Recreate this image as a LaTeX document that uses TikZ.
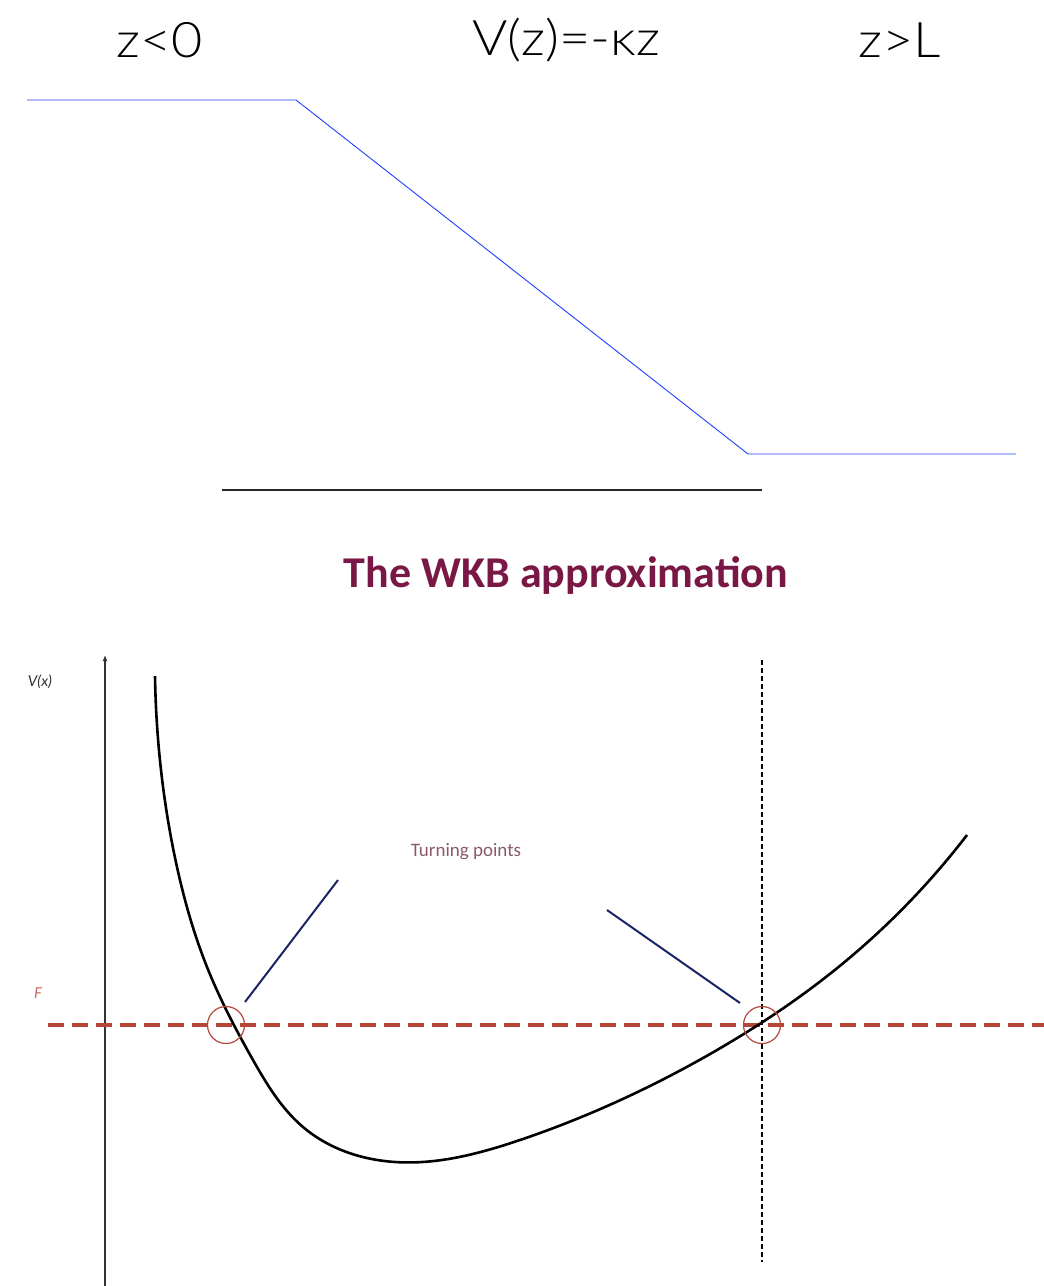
\documentclass[tikz,border=0pt]{standalone}
\usepackage{fontspec}
\setmainfont{Lato}
\IfFontExistsTF{Lato Light}{\newfontfamily\topfont[FakeStretch=1.1]{Lato Light}}{\newfontfamily\topfont[FakeStretch=1.1]{Lato}}
\newfontfamily\titlefont{Carlito}
\usetikzlibrary{arrows.meta,hobby}
\definecolor{bluel}{HTML}{1F3FFF}
\definecolor{wine}{HTML}{7A1845}
\definecolor{dashred}{HTML}{B5473A}
\definecolor{navy}{HTML}{1A2466}
\definecolor{pinkgrey}{HTML}{8A5A66}
\tikzset{
  toplabel/.style={font=\topfont\fontsize{49}{53}\selectfont, inner sep=0pt},
  potline/.style={bluel, line width=0.9pt},
  pointer/.style={navy, line width=2pt},
  tpcircle/.style={dashred, line width=1.2pt},
}
\begin{document}
\begin{tikzpicture}[x=1pt,y=-1pt]
\useasboundingbox (0,0) rectangle (1044,1286);
% top labels
\node[toplabel] (l1) at (160,40) {z<0};
\node[toplabel] (l2) at (566,40) {V(z)=-κz};
\node[toplabel] (l3) at (900,40) {z>L};
% potential
\coordinate (p0) at (27,100);
\coordinate (p1) at (296,100);
\coordinate (p2) at (748,454);
\coordinate (p3) at (1016,454);
\draw[potline] (p0) -- (p1) -- (p2) -- (p3);
\coordinate (a0) at (222,490);
\coordinate (a1) at (762,490);
\draw[line width=1.8pt, black!85] (a0) -- (a1);
% title
\node[font=\titlefont\bfseries\fontsize{44}{48}\selectfont, text=wine] (title) at (566,575) {The WKB approximation};
% axes
\coordinate (ybot) at (105,1286);
\coordinate (ytop) at (105,655);
\draw[line width=1.6pt, black!80, -{Latex[length=6pt,width=5pt]}] (ybot) -- (ytop);
\node[font=\itshape\fontsize{15}{16}\selectfont, text=black!80] (vx) at (40,682) {V(x)};
\node[font=\itshape\fontsize{15}{16}\selectfont, text=dashred!80] (E) at (38,993) {F};
% vertical dotted
\coordinate (vd0) at (762,660);
\coordinate (vd1) at (762,1262);
\draw[line width=1.6pt, dash pattern=on 5pt off 3pt] (vd0) -- (vd1);
% energy line
\coordinate (e0) at (48,1025);
\coordinate (e1) at (1044,1025);
\draw[dashred, line width=4pt, dash pattern=on 16pt off 8pt] (e0) -- (e1);
% curve
\draw[line width=2.6pt, use Hobby shortcut] (155,676) .. (161,770) .. (177,867) .. (207,967) .. (253,1060) .. (303,1127) .. (395,1162) .. (520,1140) .. (703,1058) .. (847,960) .. (967,835);
% circles
\node[tpcircle, draw, circle, minimum size=37pt, inner sep=0pt] (c1) at (226,1025) {};
\node[tpcircle, draw, circle, minimum size=37pt, inner sep=0pt] (c2) at (762,1025) {};
% pointers
\coordinate (q1) at (338,880);
\coordinate (q2) at (607,910);
\draw[pointer] (q1) -- (245,1002);
\draw[pointer] (q2) -- (740,1003);
\node[font=\titlefont\fontsize{19}{21}\selectfont, text=pinkgrey] (tp) at (466,852) {Turning points};
\end{tikzpicture}
\end{document}
